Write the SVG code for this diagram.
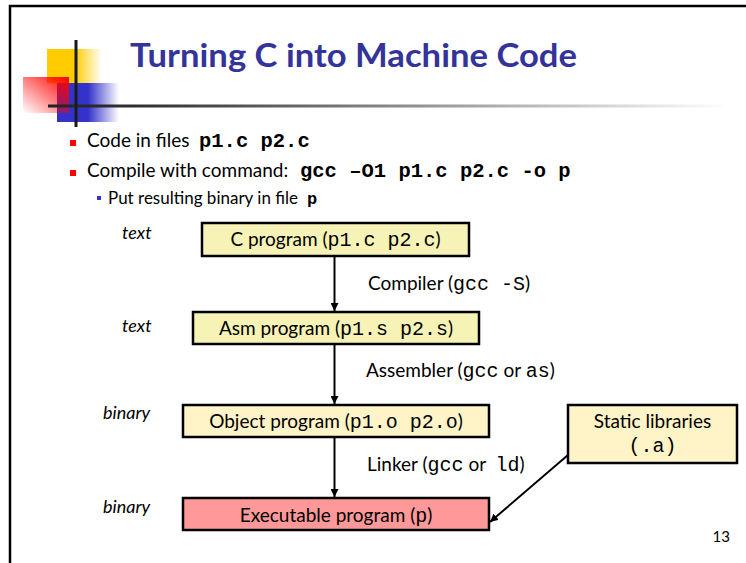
<svg xmlns="http://www.w3.org/2000/svg" width="746" height="563" viewBox="0 0 746 563">
<defs>
<linearGradient id="gY" x1="0" y1="0" x2="1" y2="0"><stop offset="0" stop-color="#FFCC00"/><stop offset="0.5" stop-color="#FFCC00"/><stop offset="1" stop-color="#FFCC00" stop-opacity="0"/></linearGradient>
<linearGradient id="gB" x1="0" y1="0" x2="1" y2="0"><stop offset="0" stop-color="#3333CC"/><stop offset="0.5" stop-color="#3333CC"/><stop offset="1" stop-color="#3333CC" stop-opacity="0"/></linearGradient>
<linearGradient id="gR" x1="1" y1="0" x2="0" y2="1"><stop offset="0" stop-color="#FF0000"/><stop offset="1" stop-color="#FF0000" stop-opacity="0"/></linearGradient>
<linearGradient id="gL" x1="0" y1="0" x2="1" y2="0"><stop offset="0" stop-color="#222"/><stop offset="0.15" stop-color="#333"/><stop offset="1" stop-color="#333" stop-opacity="0"/></linearGradient>
<marker id="ah" viewBox="0 0 10 10" refX="10" refY="5" markerWidth="4" markerHeight="4" orient="auto"><path d="M0,0 L10,5 L0,10 z" fill="#000"/></marker>
<style>
.t{font-family:Lato,"Liberation Sans",Arial,sans-serif;fill:#000}
.m{font-family:"Liberation Mono","Courier New",monospace}
.b{stroke:#000;stroke-width:2.5}
.y1{fill:#F7F3B6}
.y2{fill:#FFF3C8}
.lbl{font-size:19px}
.mm{font-size:20px}
.it{font-style:italic;font-size:18px}
.c{stroke:#000;stroke-width:2;fill:none}
</style>
</defs>
<rect width="746" height="563" fill="#fff"/>
<path d="M10,563 V6 H746" fill="none" stroke="#000" stroke-width="2.5"/>
<g id="logo">
<rect x="47" y="49" width="55" height="34" fill="url(#gY)"/>
<rect x="57" y="83" width="62" height="39" fill="url(#gB)"/>
<rect x="23" y="77" width="46" height="36" fill="url(#gR)"/>
<rect x="48" y="104.5" width="680" height="3" fill="url(#gL)"/>
<rect x="74.5" y="40" width="3" height="87" fill="#1a1a1a"/>
</g>
<text x="130" y="67" class="t" font-size="32" font-weight="bold" style="fill:#333399" textLength="447" lengthAdjust="spacingAndGlyphs">Turning C into Machine Code</text>
<g id="bullets">
<rect x="70" y="140" width="6" height="6" fill="#FF0000"/>
<text x="87" y="147" class="t" font-size="19">Code in files</text>
<text x="199" y="147" class="t m" font-size="20.5" font-weight="bold">p1.c p2.c</text>
<rect x="70" y="170" width="6" height="6" fill="#FF0000"/>
<text x="87" y="177" class="t" font-size="19">Compile with command:</text>
<text x="300" y="177" class="t m" font-size="20.5" font-weight="bold">gcc –O1 p1.c p2.c -o p</text>
<rect x="97" y="196" width="4" height="4" fill="#3333CC"/>
<text x="108" y="204" class="t" font-size="17">Put resulting binary in file</text>
<text x="307" y="204" class="t m" font-size="17" font-weight="bold">p</text>
</g>
<g id="side-labels" class="t it">
<text x="122" y="239">text</text>
<text x="122" y="332">text</text>
<text x="103" y="419">binary</text>
<text x="103" y="513">binary</text>
</g>
<g id="connectors">
<line x1="334.5" y1="256" x2="334.5" y2="311" class="c" marker-end="url(#ah)"/>
<line x1="334.5" y1="344" x2="334.5" y2="404" class="c" marker-end="url(#ah)"/>
<line x1="334.5" y1="437" x2="334.5" y2="497" class="c" marker-end="url(#ah)"/>
<line x1="568" y1="455" x2="490" y2="522" class="c" marker-end="url(#ah)"/>
<text x="368" y="290" class="t lbl">Compiler (<tspan class="m mm">gcc -S</tspan>)</text>
<text x="366" y="377" class="t lbl">Assembler (<tspan class="m mm">gcc</tspan> or <tspan class="m mm">as</tspan>)</text>
<text x="367" y="471" class="t lbl">Linker (<tspan class="m mm">gcc</tspan> or&#160; <tspan class="m mm">ld</tspan>)</text>
</g>
<g id="c-program">
<rect x="202" y="223" width="267" height="33" class="b y1"/>
<text x="335.5" y="246" class="t lbl" text-anchor="middle">C program (<tspan class="m mm">p1.c p2.c</tspan>)</text>
</g>
<g id="asm-program">
<rect x="193" y="312" width="286" height="32" class="b y1"/>
<text x="336" y="335" class="t lbl" text-anchor="middle">Asm program (<tspan class="m mm">p1.s p2.s</tspan>)</text>
</g>
<g id="object-program">
<rect x="183" y="405" width="306" height="32" class="b y2"/>
<text x="336" y="428" class="t lbl" text-anchor="middle">Object program (<tspan class="m mm">p1.o p2.o</tspan>)</text>
</g>
<g id="executable-program">
<rect x="183" y="498" width="306" height="32" class="b" fill="#FF9999"/>
<text x="336" y="522" class="t lbl" text-anchor="middle">Executable program (<tspan class="m mm">p</tspan>)</text>
</g>
<g id="static-libraries">
<rect x="568" y="405" width="169" height="58" class="b y2"/>
<text x="652.5" y="428" class="t lbl" text-anchor="middle">Static libraries</text>
<text x="652.5" y="452" class="t m mm" text-anchor="middle">(.a)</text>
</g>
<text x="730" y="542" class="t" font-size="15" text-anchor="end">13</text>
</svg>
